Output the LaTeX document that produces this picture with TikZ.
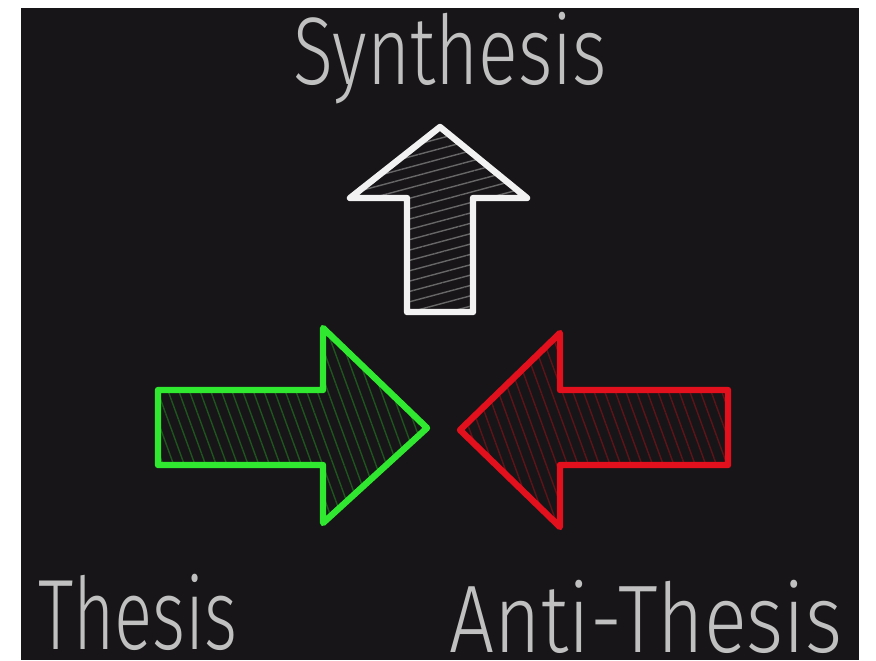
\documentclass[tikz,border=0pt]{standalone}
\usepackage{fontspec}
\setmainfont{Fira Sans}[UprightFont=* Light]
\usetikzlibrary{patterns.meta}

\definecolor{board}{HTML}{171517}
\definecolor{chalkwhite}{HTML}{F2F2F2}
\definecolor{chalkgreen}{HTML}{2FE82F}
\definecolor{chalkred}{HTML}{E2101C}
\definecolor{textgray}{HTML}{C0C0C0}

\tikzset{
  arrowline/.style={line width=3.2pt, line join=round, line cap=round},
  label/.style={inner sep=0pt, text=textgray}
}

\begin{document}
\begin{tikzpicture}[x=0.5pt, y=-0.5pt]
    \useasboundingbox (0,0) rectangle (876,660);
    \fill[white] (0,0) rectangle (876,660);
    \fill[board] (21,8) rectangle (859,660);

    \draw [arrowline, draw=chalkwhite, pattern={Lines[angle=15,distance=5pt,line width=0.7pt]}, pattern color=white!35!board]
        (440,127) -- (527,198) -- (473,198) -- (473,312) -- (407,312) -- (407,198) -- (350,198) -- cycle;

    \draw [arrowline, draw=chalkgreen, pattern={Lines[angle=-70,distance=5pt,line width=0.7pt]}, pattern color=chalkgreen!30!board]
        (427,428) -- (323,523) -- (323,465) -- (158,465) -- (158,390) -- (323,390) -- (323,328) -- cycle;

    \draw [arrowline, draw=chalkred, pattern={Lines[angle=-70,distance=5pt,line width=0.7pt]}, pattern color=chalkred!35!board]
        (460,430) -- (560,333) -- (560,390) -- (728,390) -- (728,465) -- (560,465) -- (560,527) -- cycle;

    \node (synth) [label, anchor=base] at (450,84) {\fontsize{48}{48}\selectfont\scalebox{0.77}[1]{Synthesis}};
    \node (thesis) [label, anchor=base] at (138,649) {\fontsize{50}{50}\selectfont\scalebox{0.71}[1]{Thesis}};
    \node (antithesis) [label, anchor=base] at (646,652) {\fontsize{48}{48}\selectfont\scalebox{0.83}[1]{Anti-Thesis}};
\end{tikzpicture}
\end{document}
